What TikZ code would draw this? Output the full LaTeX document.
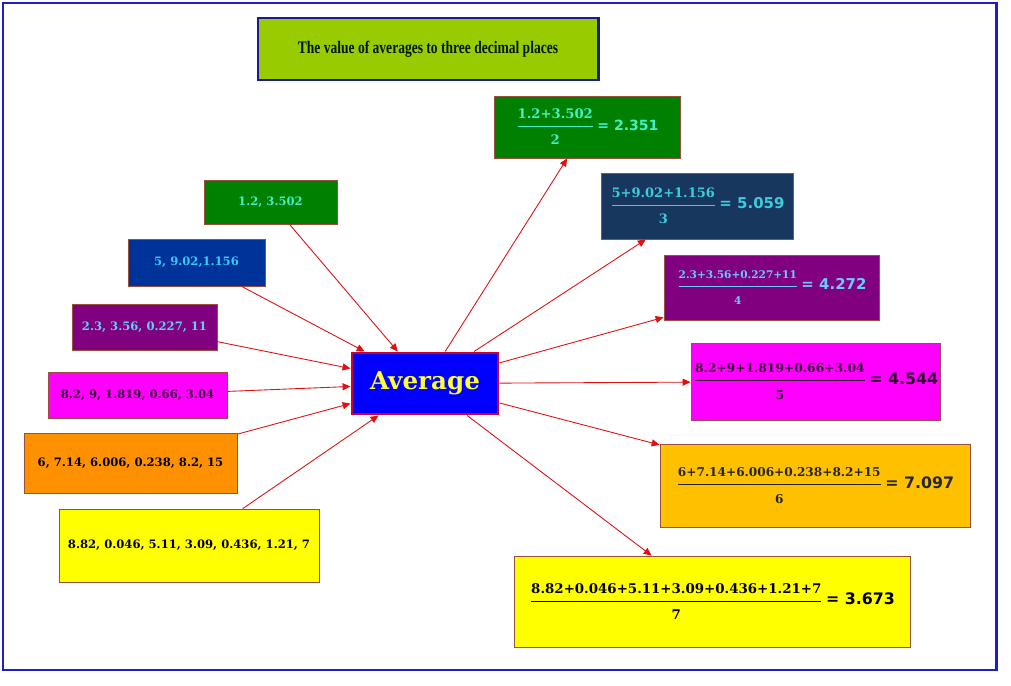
\documentclass[tikz,border=0pt]{standalone}
\usepackage{amsmath}
\usepackage{fontspec}
\usepackage{tikz}
\usetikzlibrary{arrows.meta,positioning}
\newfontfamily\wideserif{DejaVu Serif}
\newfontfamily\widesans{DejaVu Sans}
\newfontfamily\narrowserif[FakeStretch=0.77]{Liberation Serif}
\definecolor{frameblue}{HTML}{1E1EC4}
\definecolor{titlegreen}{HTML}{99CC00}
\definecolor{titleedge}{HTML}{1A1A99}
\definecolor{avgblue}{HTML}{0000FF}
\definecolor{avgedge}{HTML}{CC0033}
\definecolor{avgtext}{HTML}{FFFF33}
\definecolor{arrred}{HTML}{DD1111}
\definecolor{boxedge}{HTML}{9A4E3C}
\definecolor{grn}{HTML}{008000}
\definecolor{aqua}{HTML}{40F0C8}
\definecolor{navy}{HTML}{003399}
\definecolor{skyblue}{HTML}{33CCFF}
\definecolor{slate}{HTML}{17375E}
\definecolor{cyantext}{HTML}{3CCCDC}
\definecolor{purp}{HTML}{800080}
\definecolor{lightblue}{HTML}{66CCFF}
\definecolor{magent}{HTML}{FF00FF}
\definecolor{plum}{HTML}{330033}
\definecolor{orng}{HTML}{FF9100}
\definecolor{amber}{HTML}{FFC000}
\definecolor{yell}{HTML}{FFFF00}
% fraction with its result: num size, numerator, denominator, result size, result
\newcommand{\avgfrac}[5]{$\genfrac{}{}{0.7pt}{0}%
  {\hbox{\fontsize{#1}{#1}\selectfont\wideserif\bfseries #2\rule[-2pt]{0pt}{2pt}}}%
  {\hbox{\fontsize{#1}{#1}\selectfont\wideserif\bfseries\rule{0pt}{8pt}#3}}%
  \hbox{\fontsize{#4}{#4}\selectfont\widesans\bfseries\,= #5}$}

\begin{document}
\begin{tikzpicture}[
  x=0.02cm,y=-0.02cm,
  sz/.style 2 args={minimum width=#1*0.02cm,minimum height=#2*0.02cm},
  box/.style={draw=boxedge,line width=0.5pt,inner sep=0pt,align=center},
  inbox/.style={box,font=\fontsize{6.6}{8}\selectfont\wideserif\bfseries},
  outbox/.style={box,font=\fontsize{8}{9}\selectfont},
  arr/.style={-{Triangle[length=4.5pt,width=4pt]},draw=arrred,line width=0.5pt}
]
\useasboundingbox (0,0) rectangle (1011,686);
\draw[frameblue,line width=1.7pt] (3,3) rectangle (996,670);

\node[box,sz={340}{62},fill=titlegreen,draw=titleedge,line width=1.7pt,
  font=\fontsize{10}{12}\selectfont\narrowserif\bfseries,text=black!90!green] (title) at (428,49)
  {The value of averages to three decimal places};
\node[box,sz={146}{61},fill=avgblue,draw=avgedge,line width=1.7pt,text=avgtext,
  font=\fontsize{14}{16}\selectfont\wideserif\bfseries] (avg) at (425,383.5) {Average};

% the data
\node[inbox,sz={133}{44},fill=grn,text=aqua] (in1) at (270.5,202) {1.2, 3.502};
\node[inbox,sz={137}{47},fill=navy,text=skyblue] (in2) at (196.5,262.5) {5, 9.02,1.156};
\node[inbox,sz={145}{46},fill=purp,text=lightblue] (in3) at (144.5,327) {2.3, 3.56, 0.227, 11};
\node[inbox,sz={179}{46},fill=magent,text=plum] (in4) at (137.5,395) {8.2, 9, 1.819, 0.66, 3.04};
\node[inbox,sz={213}{60},fill=orng,text=black] (in5) at (130.5,463) {6, 7.14, 6.006, 0.238, 8.2, 15};
\node[inbox,sz={260}{73},fill=yell,text=black] (in6) at (189,545.5) {8.82, 0.046, 5.11, 3.09, 0.436, 1.21, 7};

% the averages
\node[outbox,sz={186}{62},fill=grn,text=aqua] (r1) at (587,127)
  {\avgfrac{7.5}{1.2+3.502}{2}{8}{2.351}};
\node[outbox,sz={192}{66},fill=slate,text=cyantext] (r2) at (697,206)
  {\avgfrac{7.4}{5+9.02+1.156}{3}{8.5}{5.059}};
\node[outbox,sz={215}{65},fill=purp,text=lightblue] (r3) at (771.5,287.5)
  {\avgfrac{6}{2.3+3.56+0.227+11}{4}{8.5}{4.272}};
\node[outbox,sz={249}{77},fill=magent,text=plum] (r4) at (815.5,381.5)
  {\avgfrac{7}{8.2+9+1.819+0.66+3.04}{5}{9}{4.544}};
\node[outbox,sz={310}{83},fill=amber,text=black!85] (r5) at (815,485.5)
  {\avgfrac{6.9}{6+7.14+6.006+0.238+8.2+15}{6}{9}{7.097}};
\node[outbox,sz={396}{91},fill=yell,text=black] (r6) at (712,601.5)
  {\avgfrac{7.6}{8.82+0.046+5.11+3.09+0.436+1.21+7}{7}{9}{3.673}};

\draw[arr] (in1) -- (avg);
\draw[arr] (in2) -- (avg);
\draw[arr] (in3) -- (avg);
\draw[arr] (in4) -- (avg);
\draw[arr] (in5) -- (avg);
\draw[arr] (in6) -- (avg);
\draw[arr] (avg) -- (r1);
\draw[arr] (avg) -- (r2);
\draw[arr] (avg) -- (r3);
\draw[arr] (avg) -- (r4);
\draw[arr] (avg) -- (r5);
\draw[arr] (avg) -- (r6);
\end{tikzpicture}
\end{document}
